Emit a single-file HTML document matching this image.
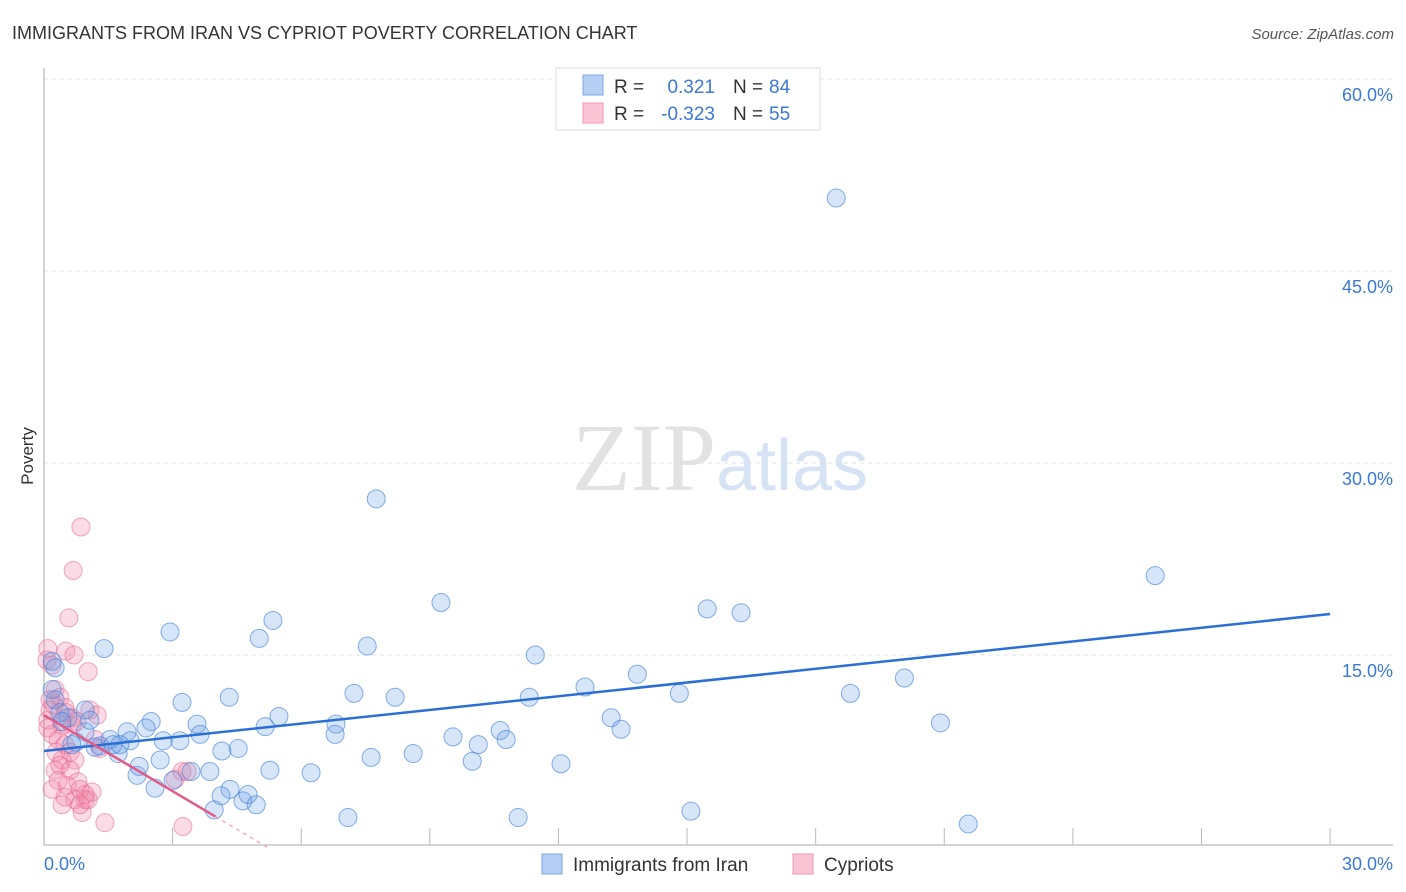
<!DOCTYPE html>
<html><head><meta charset="utf-8"><style>
body{margin:0;background:#fff;font-family:"Liberation Sans",sans-serif;}
svg{display:block}
</style></head><body>
<svg id="chart" width="1406" height="892">
<text x="12" y="39" font-size="18" fill="#333">IMMIGRANTS FROM IRAN VS CYPRIOT POVERTY CORRELATION CHART</text>
<text x="1394" y="39" font-size="15" fill="#555" font-style="italic" text-anchor="end">Source: ZipAtlas.com</text>
<text x="716" y="490" font-size="96" fill="#e2e2e2" text-anchor="end" font-family="Liberation Serif,serif">ZIP</text>
<text x="716" y="490" font-size="72" fill="#d6e3f5">atlas</text>
<g id="grid"></g>
<g id="axes"></g>
<g id="pts"></g>
<g id="lines"></g>
<text transform="translate(33,456) rotate(-90)" font-size="17" fill="#333" text-anchor="middle">Poverty</text>
<g>
<rect x="556" y="68" width="264" height="62" fill="#fff" stroke="#ddd"/>
<rect x="583" y="75" width="20" height="20" fill="#b5cff4" stroke="#7fa7e3"/>
<rect x="583" y="103" width="20" height="20" fill="#f9c4d4" stroke="#ee9ab4"/>
<text x="614" y="93" font-size="19" fill="#333">R =</text>
<text x="715" y="93" font-size="19" fill="#3b78d8" text-anchor="end">0.321</text>
<text x="733" y="93" font-size="19" fill="#333">N =</text>
<text x="769" y="93" font-size="19" fill="#3b78d8">84</text>
<text x="614" y="120" font-size="19" fill="#333">R =</text>
<text x="715" y="120" font-size="19" fill="#3b78d8" text-anchor="end">-0.323</text>
<text x="733" y="120" font-size="19" fill="#333">N =</text>
<text x="769" y="120" font-size="19" fill="#3b78d8">55</text>
</g>
<g>
<rect x="542" y="854" width="20" height="20" fill="#b5cff4" stroke="#7fa7e3"/>
<text x="573" y="871" font-size="19" fill="#333">Immigrants from Iran</text>
<rect x="793" y="854" width="20" height="20" fill="#f9c4d4" stroke="#ee9ab4"/>
<text x="824" y="871" font-size="19" fill="#333">Cypriots</text>
</g>
</svg>
<script>
const yTicks=[15,30,45,60];
const yTickLabels=["15.0%","30.0%","45.0%","60.0%"];
const xTicks=[3,6,9,12,15,18,21,24,27,30];
const xEndLabels=["0.0%","30.0%"];
const iranX=[18.48,7.75,25.92,9.26,15.47,16.26,5.34,2.94,5.02,1.40,7.54,11.46,13.84,12.62,20.07,11.32,7.23,8.19,3.22,4.32,18.81,14.82,13.23,5.48,5.16,3.57,2.50,20.91,6.81,6.79,10.64,13.46,9.54,10.78,10.13,3.64,1.94,2.38,3.17,2.78,4.53,4.15,7.63,8.61,9.99,12.06,2.01,1.54,1.19,1.73,0.75,0.96,5.27,6.23,3.87,3.43,2.71,2.17,2.22,2.59,4.34,4.13,4.64,4.76,4.95,3.01,3.97,15.09,7.09,11.06,21.56,0.19,0.26,0.19,0.26,0.37,0.56,0.96,1.07,1.31,0.65,0.42,1.61,1.77];
const iranY=[50.7,27.2,21.2,19.1,18.6,18.3,17.7,16.8,16.3,15.5,15.7,15.0,13.5,12.5,13.2,11.7,12.0,11.7,11.3,11.7,12.0,12.0,10.1,10.2,9.4,9.6,9.8,9.7,9.6,8.8,9.1,9.2,8.6,8.4,8.0,8.8,9.0,9.3,8.3,8.3,7.7,7.5,7.0,7.3,6.7,6.5,8.3,8.4,7.8,7.3,8.2,9.0,6.0,5.8,5.9,5.9,6.8,5.6,6.3,4.6,4.5,4.0,3.6,4.1,3.3,5.2,2.9,2.8,2.3,2.3,1.8,14.5,14.0,12.3,11.5,10.5,10.1,10.7,9.9,7.9,8.0,9.8,8.0,8.0];
const cypX=[0.86,0.68,0.58,0.09,0.51,0.70,1.03,0.19,0.26,0.37,0.14,0.49,0.65,0.09,0.42,1.07,1.24,0.19,0.33,0.49,0.61,0.72,0.42,0.26,0.33,0.54,0.84,0.96,0.72,0.49,1.03,0.89,1.42,3.24,3.22,3.06,3.34,0.14,0.09,0.28,0.37,0.19,0.61,0.79,0.96,0.84,0.42,1.12,0.07,0.23,0.51,0.65,1.19,1.31,0.77];
const cypY=[25.0,21.6,17.9,15.5,15.3,15.0,13.7,14.2,12.3,11.7,11.5,10.9,10.1,9.9,9.5,10.7,10.3,8.8,8.4,8.0,7.4,6.8,6.8,6.0,5.2,4.8,4.5,3.7,3.7,3.9,3.7,2.7,1.9,1.6,5.9,5.3,5.9,10.7,9.3,7.4,6.4,4.5,6.0,5.1,4.1,3.3,3.3,4.3,14.6,11.1,10.5,9.5,8.4,7.7,9.8];
const iranTrend=[7.5,18.2];
const cypTrend=[10.3,-1.98];
const NS="http://www.w3.org/2000/svg";
const X=v=>44+v*42.87, Y=v=>847-v*12.8;
function mk(tag,attrs,parent){const e=document.createElementNS(NS,tag);for(const k in attrs)e.setAttribute(k,attrs[k]);document.getElementById(parent).appendChild(e);return e;}
yTicks.forEach((t,i)=>{
 const g=mk('line',{x1:44,x2:1393,y1:Y(t),y2:Y(t),stroke:'#e2e2e2','stroke-dasharray':'4,4'},'grid');
 
 
 const l=mk('text',{x:1393,y:Y(t)+22,'font-size':18,fill:'#3b78d8','text-anchor':'end'},'grid');
 l.textContent=yTickLabels[i];
 
 
});
const ax=mk('line',{x1:44,x2:44,y1:68,y2:845,stroke:'#aaa'},'axes');


const bx=mk('line',{x1:44,x2:1393,y1:845,y2:845,stroke:'#aaa'},'axes');


xTicks.forEach(t=>{const e=mk('line',{x1:X(t),x2:X(t),y1:845,y2:828,stroke:'#bbb'},'axes');
 
 });
const x0=mk('text',{x:44,y:870,'font-size':18,fill:'#3b78d8'},'axes');x0.textContent=xEndLabels[0];


const x1=mk('text',{x:1393,y:870,'font-size':18,fill:'#3b78d8','text-anchor':'end'},'axes');x1.textContent=xEndLabels[1];


cypX.forEach((v,i)=>{const c=mk('circle',{cx:X(v),cy:Y(cypY[i]),r:9,fill:'rgba(240,130,165,0.28)',stroke:'rgba(232,110,150,0.6)'},'pts');
 
 });
iranX.forEach((v,i)=>{const c=mk('circle',{cx:X(v),cy:Y(iranY[i]),r:9,fill:'rgba(110,160,230,0.28)',stroke:'rgba(70,130,215,0.65)'},'pts');
 
 });
const bl=mk('line',{x1:X(0),y1:Y(iranTrend[0]),x2:X(30),y2:Y(iranTrend[1]),stroke:'#2a6fd6','stroke-width':2.5},'lines');


const pe=4.0, pz=-cypTrend[0]/cypTrend[1];
const pl=mk('line',{x1:X(0),y1:Y(cypTrend[0]),x2:X(pe),y2:Y(cypTrend[0]+cypTrend[1]*pe),stroke:'#e25a88','stroke-width':2.5},'lines');


const pd=mk('line',{x1:X(pe),y1:Y(cypTrend[0]+cypTrend[1]*pe),x2:X(pz),y2:Y(0),stroke:'#e9a0b8','stroke-width':1.2,'stroke-dasharray':'4,4'},'lines');


</script>
</body></html>
